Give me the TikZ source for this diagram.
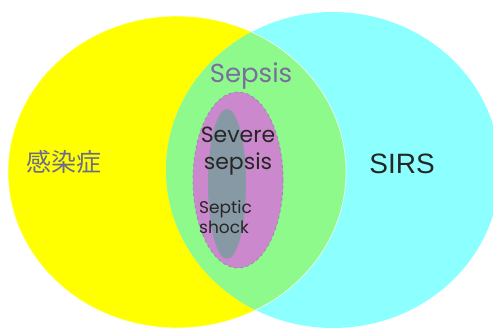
\documentclass[tikz,border=0pt]{standalone}
\usepackage{fontspec}
\setmainfont{Liberation Sans}
\newfontfamily\roundfont{Poppins}
\newfontfamily\jpfont{Noto Sans CJK JP}
\usepackage{tikz}

\definecolor{infyellow}{HTML}{FFFF00}
\definecolor{sirscyan}{HTML}{8CFFFF}
\definecolor{lensgreen}{HTML}{8EFA8C}
\definecolor{severepink}{HTML}{CC88CC}
\definecolor{shockgrey}{HTML}{8899A6}
\definecolor{sepsistext}{HTML}{7A6E9E}
\definecolor{jptext}{HTML}{6B6B8A}

\begin{document}
\begin{tikzpicture}[x=1pt,y=-1pt,
  lbl/.style={inner sep=0pt,align=center},
  edge/.style={draw=sepsistext!80,dashed,line width=0.8pt}]
\useasboundingbox (0,0) rectangle (493,327);
\clip (0,0) rectangle (493,327);
% the two sets
\fill[infyellow] (177,172) ellipse (169 and 156);
\fill[sirscyan] (333,170) ellipse (167 and 158);
\begin{scope}
  \clip (177,172) ellipse (169 and 156);
  \fill[lensgreen] (333,170) ellipse (167 and 158);
\end{scope}
\draw[white,line width=0.8pt,opacity=0.7] (177,172) ellipse (169 and 156);
% nested stages
\fill[severepink] (238,180) ellipse (45 and 88);
\fill[shockgrey] (227,184) ellipse (19 and 75);
\draw[edge] (238,180) ellipse (45 and 88);
% labels
\node[lbl,font=\jpfont\fontsize{25}{25}\selectfont,text=jptext] (inf) at (64,162) {感染症};
\node[lbl,font=\fontsize{28}{28}\selectfont,text=black!85] (sirs) at (402,164) {SIRS};
\node[lbl,font=\roundfont\fontsize{26}{26}\selectfont,text=sepsistext] (sepsis) at (251,76) {Sepsis};
\node[lbl,font=\roundfont\fontsize{22}{27}\selectfont,text=black!85] (severe) at (238,151) {Severe\\sepsis};
\node[lbl,font=\roundfont\fontsize{17}{20}\selectfont,text=black!85,align=left,anchor=west] (shock) at (199,217) {Septic\\shock};
\end{tikzpicture}
\end{document}
